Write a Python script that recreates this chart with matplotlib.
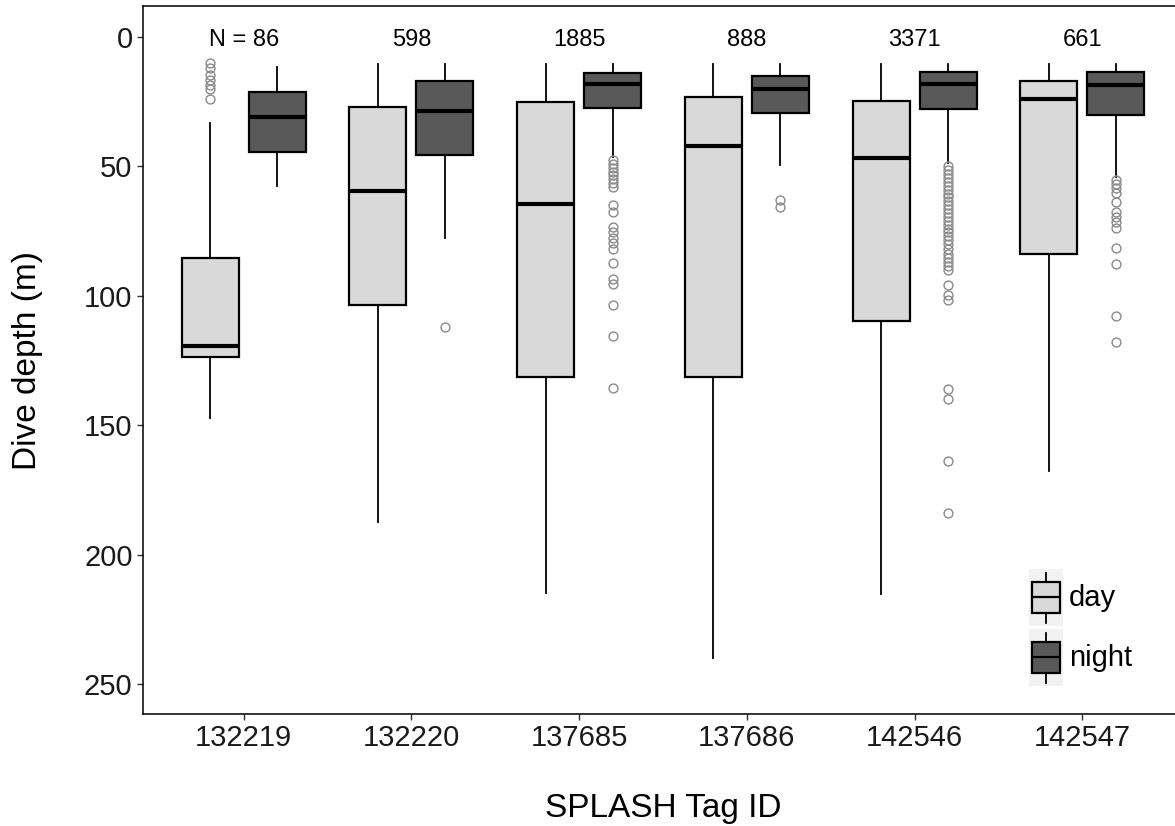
import matplotlib
matplotlib.use('Agg')
import matplotlib.pyplot as plt
from matplotlib.legend_handler import HandlerBase
from matplotlib.patches import Rectangle
from matplotlib.lines import Line2D

plt.rcParams['font.family'] = ['Liberation Sans', 'DejaVu Sans']

# ---------------- data ----------------
tag_ids = ['132219', '132220', '137685', '137686', '142546', '142547']
n_labels = ['N = 86', '598', '1885', '888', '3371', '661']
periods = ['day', 'night']

day_whislo = [33.4, 10.4, 10.4, 10.4, 10.4, 10.4]
day_q1 = [85.5, 27.2, 25.2, 23.1, 24.9, 17.0]
day_med = [119.5, 59.5, 64.4, 42.0, 46.8, 24.1]
day_q3 = [123.5, 103.4, 131.4, 131.4, 109.7, 83.8]
day_whishi = [147.4, 187.3, 215.0, 240.1, 215.2, 167.6]
day_fliers = [
    [10, 12, 14.5, 16.5, 18.5, 20, 24],
    [], [], [], [], [],
]

night_whislo = [11.5, 10.4, 10.4, 10.4, 10.4, 10.4]
night_q1 = [21.1, 17.0, 14.0, 15.2, 13.5, 13.5]
night_med = [31.0, 28.6, 18.2, 20.2, 18.2, 18.7]
night_q3 = [44.4, 45.5, 27.3, 29.4, 27.9, 30.1]
night_whishi = [57.4, 77.5, 46.2, 49.3, 48.8, 54.0]
night_fliers = [
    [],
    [112.1],
    [47.5, 49, 50.5, 52, 53.5, 55, 56.5, 58, 65, 67.5, 73.5, 75.5, 77.5,
     79.5, 82, 87.5, 93.5, 95.5, 103.5, 115.5, 135.5],
    [63.0, 65.8],
    [50, 51.5, 53, 54.5, 56, 57.5, 59, 60.5, 62, 63.5, 65, 66.5, 68, 69.5,
     71, 72.5, 74, 75.5, 77, 78.5, 80, 82, 84, 85.5, 87, 88.5, 90, 96,
     99.5, 101.5, 136, 140, 164, 184],
    [55.3, 56.9, 58.5, 60.4, 63.9, 67.5, 69.4, 71.4, 73.9, 81.7, 87.8,
     107.8, 117.9],
]

day_color = '#d9d9d9'
night_color = '#595959'

# ---------------- figure ----------------
W, H = 1175, 826
fig = plt.figure(figsize=(W / 100, H / 100), dpi=100)
ax = fig.add_axes([143 / W, 1 - 714 / H, (1183 - 143) / W, (714 - 6) / H])


def make_stats(wl, q1, med, q3, wh, fl):
    return [dict(whislo=a, q1=b, med=c, q3=d, whishi=e, fliers=f)
            for a, b, c, d, e, f in zip(wl, q1, med, q3, wh, fl)]


day_stats = make_stats(day_whislo, day_q1, day_med, day_q3, day_whishi, day_fliers)
night_stats = make_stats(night_whislo, night_q1, night_med, night_q3, night_whishi, night_fliers)

centers = list(range(1, len(tag_ids) + 1))
offset = 0.2
bw = 0.34

common = dict(widths=bw, patch_artist=True, showcaps=False,
              medianprops=dict(color='black', linewidth=3.0, solid_capstyle='butt'),
              whiskerprops=dict(color='black', linewidth=1.3),
              flierprops=dict(marker='o', markerfacecolor='none',
                              markeredgecolor='#8a8a8a', markersize=6.4,
                              markeredgewidth=1.0, linestyle='none'))

ax.bxp(day_stats, positions=[c - offset for c in centers],
       boxprops=dict(facecolor=day_color, edgecolor='black', linewidth=1.6),
       **common)
ax.bxp(night_stats, positions=[c + offset for c in centers],
       boxprops=dict(facecolor=night_color, edgecolor='black', linewidth=1.6),
       **common)

for c, lab in zip(centers, n_labels):
    ax.text(c, 3.5, lab, ha='center', va='baseline', fontsize=17, color='black')

ax.set_xlim(0.4, 6.6)
ax.set_ylim(261.6, -12.0)
ax.set_xticks(centers)
ax.set_xticklabels(tag_ids)
ax.set_yticks([0, 50, 100, 150, 200, 250])

ax.tick_params(axis='both', labelsize=21, length=4.5, width=1.0,
               color='#333333', labelcolor='#1a1a1a', pad=3)

for s in ax.spines.values():
    s.set_linewidth(1.1)
    s.set_color('black')

ax.set_xlabel('SPLASH Tag ID', fontsize=24)
ax.set_ylabel('Dive depth (m)', fontsize=24)
ax.xaxis.label.set_va('baseline')
ax.xaxis.set_label_coords(0.5, (714 - 817) / 708)
ax.yaxis.label.set_va('baseline')
ax.yaxis.set_label_coords((36 - 143) / 1040, 0.5)


# ---------------- legend ----------------
class BoxKeyHandler(HandlerBase):
    def create_artists(self, legend, orig_handle, xdescent, ydescent,
                       width, height, fontsize, trans):
        x0, y0 = -xdescent, -ydescent
        bg = Rectangle((x0, y0), width, height, facecolor='#f2f2f2',
                       edgecolor='none', transform=trans)
        bwid = width * 0.85
        bx = x0 + (width - bwid) / 2
        bh = height * 0.54
        by = y0 + (height - bh) / 2
        box = Rectangle((bx, by), bwid, bh, facecolor=orig_handle.get_facecolor(),
                        edgecolor='black', linewidth=1.6, transform=trans)
        cx = x0 + width / 2
        w1 = Line2D([cx, cx], [y0 + height * 0.06, by], color='black', lw=1.3, transform=trans)
        w2 = Line2D([cx, cx], [by + bh, y0 + height * 0.93], color='black', lw=1.3, transform=trans)
        med = Line2D([bx, bx + bwid], [by + bh / 2] * 2, color='black', lw=1.6,
                     transform=trans, solid_capstyle='butt')
        return [bg, w1, w2, box, med]


handles = [Rectangle((0, 0), 1, 1, facecolor=day_color),
           Rectangle((0, 0), 1, 1, facecolor=night_color)]
fs = 21
fpx = fs * 100 / 72
key_h = 57 / fpx
hh = (key_h - 0.245) / 0.65
leg = ax.legend(handles, periods, handler_map={Rectangle: BoxKeyHandler()},
                loc='upper left', bbox_to_anchor=(1029 / W, 1 - 569 / H),
                bbox_transform=fig.transFigure, frameon=False, fontsize=fs,
                borderpad=0, borderaxespad=0,
                handlelength=34 / fpx, handleheight=hh,
                labelspacing=3 / fpx, handletextpad=6 / fpx)

fig.savefig('out.png', dpi=100)
